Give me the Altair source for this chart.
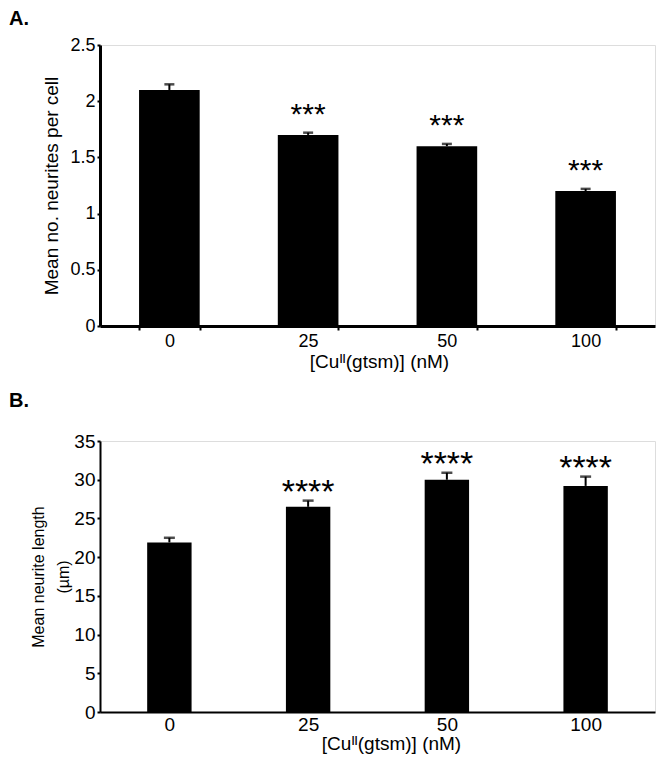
import altair as alt
import pandas as pd

conc = ["0", "25", "50", "100"]
a_mean = [2.10, 1.70, 1.60, 1.20]
a_sem = [0.05, 0.02, 0.02, 0.02]
a_sig = ["", "***", "***", "***"]
b_mean = [21.9, 26.5, 30.0, 29.2]
b_sem = [0.6, 0.8, 0.9, 1.2]
b_sig = ["", "****", "****", "****"]
a_yticks = [0, 0.5, 1, 1.5, 2, 2.5]
b_yticks = [0, 5, 10, 15, 20, 25, 30, 35]

FONT = "Liberation Sans"

dfa = pd.DataFrame({"conc": conc, "mean": a_mean, "sem": a_sem, "sig": a_sig})
dfa["top"] = dfa["mean"] + dfa["sem"]
dfb = pd.DataFrame({"conc": conc, "mean": b_mean, "sem": b_sem, "sig": b_sig})
dfb["top"] = dfb["mean"] + dfb["sem"]

xtitle = "[Cuᴵᴵ(gtsm)] (nM)"


def panel(df, letter, ytitle, yticks, pin, w, h, dom_w, fs_lab, fs_ytitle, fs_xtitle,
          star_fs, star_dy, cap, xticks, ytitle_x, ytitle_lh, xtitle_x, xlabpad, xtitlepad,
          letter_x, letter_y):
    xscale = alt.Scale(paddingInner=pin, paddingOuter=pin / 2)
    xaxis = alt.Axis(title=xtitle, labelAngle=0, labelFont=FONT, titleFont=FONT,
                     labelFontSize=fs_lab, titleFontSize=fs_xtitle, labelColor="black",
                     titleColor="black", titleFontWeight="normal", domainColor="black",
                     domainWidth=dom_w, tickBand="extent", ticks=xticks, tickSize=4,
                     tickWidth=2, tickColor="black", labelPadding=xlabpad,
                     titlePadding=xtitlepad, titleX=xtitle_x)
    yscale = alt.Scale(domain=[yticks[0], yticks[-1]], nice=False)
    yaxis = alt.Axis(title=ytitle, values=yticks, format=".1~f", labelFont=FONT,
                     titleFont=FONT, labelFontSize=fs_lab, titleFontSize=fs_ytitle,
                     labelColor="black", titleColor="black", titleFontWeight="normal",
                     domainColor="black", domainWidth=dom_w, tickSize=3, tickWidth=2,
                     tickColor="black", labelPadding=2, grid=False, labelOverlap=False,
                     titleX=ytitle_x, titleBaseline="alphabetic",
                     titleLineHeight=ytitle_lh)

    def X():
        return alt.X("conc:N", sort=conc, scale=xscale, axis=xaxis)

    def Y(field):
        return alt.Y(field, scale=yscale, axis=yaxis)

    base = alt.Chart(df)
    bars = base.mark_bar(color="black").encode(x=X(), y=Y("mean:Q"))
    rule = base.mark_rule(color="black", strokeWidth=2).encode(
        x=X(), y=Y("mean:Q"), y2="top:Q")
    tick = base.mark_tick(color="black", thickness=2.5, size=cap).encode(
        x=X(), y=Y("top:Q"))
    stars = base.mark_text(font=FONT, fontSize=star_fs, baseline="alphabetic", dy=star_dy,
                           color="black").encode(x=X(), y=Y("top:Q"), text="sig:N")
    lab = alt.Chart(pd.DataFrame({"t": [letter]})).mark_text(
        font=FONT, fontSize=20, fontWeight="bold", align="left", baseline="top", color="black"
    ).encode(x=alt.value(letter_x), y=alt.value(letter_y), text="t:N")
    return alt.layer(bars, rule, tick, stars, lab).properties(width=w, height=h)


pa = panel(dfa, "A.", "Mean no. neurites per cell", a_yticks, 0.563, 555, 281, 3,
           18, 19, 19, 30, -9, 10, True, -43, 22, 279, 2, 2, -91, -36)
pb = panel(dfb, "B.", ["Mean neurite length", "(µm)"], b_yticks, 0.68, 555, 271, 2,
           19, 16, 19, 34, 2, 11, False, -57, 25, 291, 3, 0, -91, -50)

chart = alt.vconcat(pa, pb, spacing=18).configure_view(stroke=None).configure(
    background="white", padding=0)

chart.save("out.html", embed_options={"renderer": "svg", "actions": False})
